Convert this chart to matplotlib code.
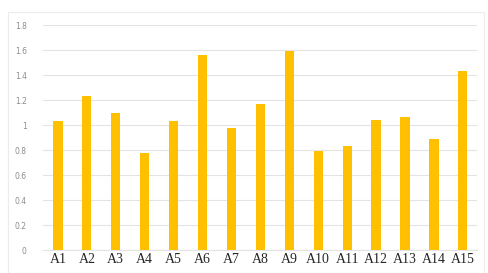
import matplotlib.pyplot as plt
from matplotlib.patches import Rectangle

# Data
labels = ['A1', 'A2', 'A3', 'A4', 'A5', 'A6', 'A7', 'A8', 'A9', 'A10',
          'A11', 'A12', 'A13', 'A14', 'A15']
values = [1.03, 1.23, 1.10, 0.78, 1.035, 1.56, 0.98, 1.165, 1.59, 0.79,
          0.835, 1.04, 1.067, 0.89, 1.43]
yticks = [0, 0.2, 0.4, 0.6, 0.8, 1.0, 1.2, 1.4, 1.6, 1.8]
ytick_labels = ['0', '0.2', '0.4', '0.6', '0.8', '1', '1.2', '1.4', '1.6', '1.8']

fig = plt.figure(figsize=(4.88, 2.73), dpi=100, facecolor='white')
ax = fig.add_axes([0.0891, 0.0842, 0.889, 0.8242])

# faint chart-area border
fig.patches.append(Rectangle((0.017, 0.0), 0.975, 0.955, transform=fig.transFigure,
                             fill=False, edgecolor='#ececec', linewidth=0.8))

x = range(len(labels))
ax.bar(x, values, width=0.32, color='#FFC000', zorder=3)

ax.set_xlim(-0.5, len(labels) - 0.5)
ax.set_ylim(0, 1.8)
ax.set_yticks(yticks)
ax.set_yticklabels(ytick_labels, fontsize=5.5, color='#8c8c8c')
ax.set_xticks(list(x))
ax.set_xticklabels(labels, fontsize=10, family='Liberation Serif', color='#262626')
ax.tick_params(axis='both', length=0)
ax.tick_params(axis='y', pad=12)
ax.tick_params(axis='x', pad=2)

ax.grid(axis='y', color='#e3e3e3', linewidth=0.8, zorder=0)
for side in ['top', 'right', 'left']:
    ax.spines[side].set_visible(False)
ax.spines['bottom'].set_color('#e3e3e3')
ax.spines['bottom'].set_linewidth(0.8)

plt.savefig('out.png', dpi=100, facecolor='white')
